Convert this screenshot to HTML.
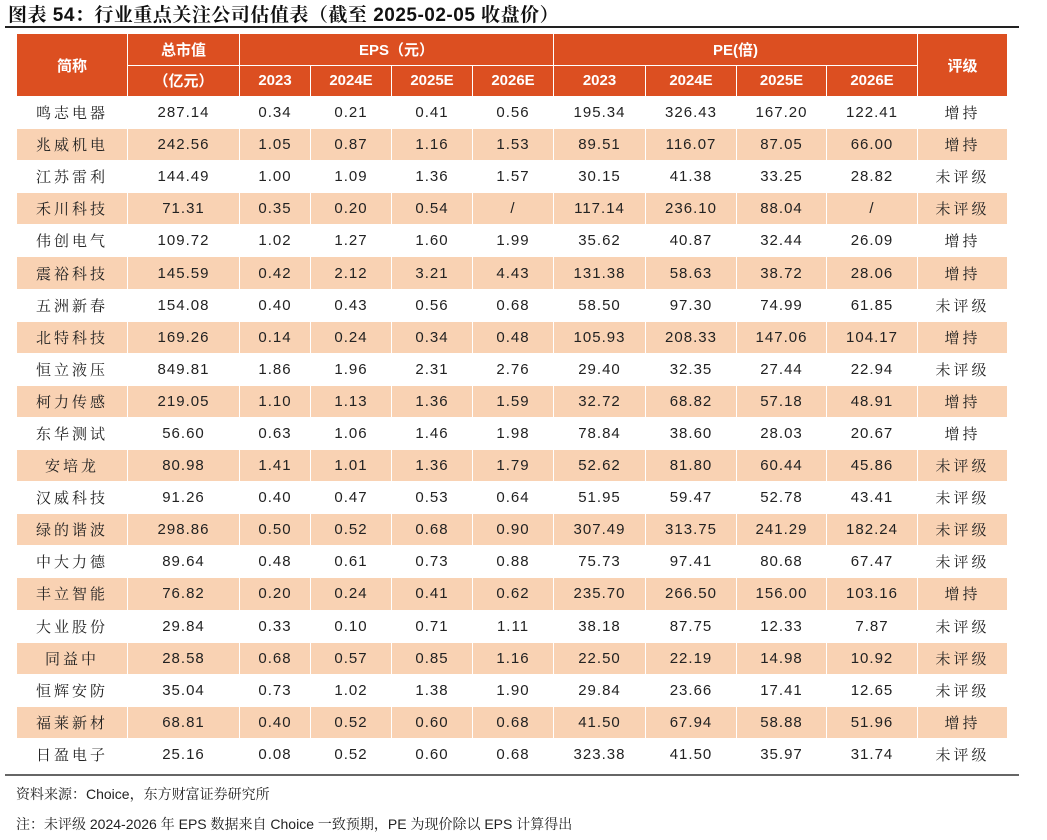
<!DOCTYPE html>
<html><head><meta charset="utf-8">
<style>
body{margin:0;width:1047px;height:840px;background:#fff;position:relative;overflow:hidden;font-family:"Liberation Sans","Noto Sans CJK SC",sans-serif;}
#title{position:absolute;left:8px;top:0px;font-size:19px;font-weight:bold;color:#111;letter-spacing:0.5px;white-space:nowrap;font-family:"Liberation Sans","Noto Serif CJK SC",serif;}
#rule{position:absolute;left:5px;top:26px;width:1014px;height:2px;background:#222;}
table{position:absolute;left:16px;top:33px;border-collapse:collapse;table-layout:fixed;}
td,th{padding:0;text-align:center;border:1px solid #fff;font-size:15px;color:#222;}
th{background:#DC4F21;color:#fff;font-weight:bold;height:30.5px;font-size:15px;}
tbody td{height:31.1px;}
tbody tr:nth-child(even) td{background:#F9D2B3;}
td.n{font-family:"Liberation Sans","Noto Sans CJK SC",sans-serif;letter-spacing:1px;}
td.c{font-family:"Noto Serif CJK SC",serif;letter-spacing:3px;}
#bottom{position:absolute;left:5px;top:774px;width:1014px;height:2px;background:#666;}
.note{position:absolute;left:16px;font-size:14px;color:#222;white-space:nowrap;font-family:"Liberation Sans","Noto Serif CJK SC",sans-serif;}
</style></head><body>
<div id="title">图表 54：行业重点关注公司估值表（截至 2025-02-05 收盘价）</div>
<div id="rule"></div>
<table>
<colgroup><col style="width:111px"><col style="width:112px"><col style="width:71px"><col style="width:81px"><col style="width:81px"><col style="width:81px"><col style="width:92px"><col style="width:91px"><col style="width:90px"><col style="width:91px"><col style="width:90px"></colgroup>
<thead>
<tr><th rowspan="2">简称</th><th>总市值</th><th colspan="4">EPS（元）</th><th colspan="4">PE(倍)</th><th rowspan="2">评级</th></tr>
<tr><th>（亿元）</th><th>2023</th><th>2024E</th><th>2025E</th><th>2026E</th><th>2023</th><th>2024E</th><th>2025E</th><th>2026E</th></tr>
</thead>
<tbody id="tb"></tbody>
</table>
<div id="bottom"></div>
<div class="note" style="top:784px">资料来源：Choice，东方财富证券研究所</div>
<div class="note" style="top:814px">注：未评级 2024-2026 年 EPS 数据来自 Choice 一致预期，PE 为现价除以 EPS 计算得出</div>
<script>
const names=["鸣志电器","兆威机电","江苏雷利","禾川科技","伟创电气","震裕科技","五洲新春","北特科技","恒立液压","柯力传感","东华测试","安培龙","汉威科技","绿的谐波","中大力德","丰立智能","大业股份","同益中","恒辉安防","福莱新材","日盈电子"];
const mcap=["287.14","242.56","144.49","71.31","109.72","145.59","154.08","169.26","849.81","219.05","56.60","80.98","91.26","298.86","89.64","76.82","29.84","28.58","35.04","68.81","25.16"];
const eps=[["0.34","0.21","0.41","0.56"],["1.05","0.87","1.16","1.53"],["1.00","1.09","1.36","1.57"],["0.35","0.20","0.54","/"],["1.02","1.27","1.60","1.99"],["0.42","2.12","3.21","4.43"],["0.40","0.43","0.56","0.68"],["0.14","0.24","0.34","0.48"],["1.86","1.96","2.31","2.76"],["1.10","1.13","1.36","1.59"],["0.63","1.06","1.46","1.98"],["1.41","1.01","1.36","1.79"],["0.40","0.47","0.53","0.64"],["0.50","0.52","0.68","0.90"],["0.48","0.61","0.73","0.88"],["0.20","0.24","0.41","0.62"],["0.33","0.10","0.71","1.11"],["0.68","0.57","0.85","1.16"],["0.73","1.02","1.38","1.90"],["0.40","0.52","0.60","0.68"],["0.08","0.52","0.60","0.68"]];
const pe=[["195.34","326.43","167.20","122.41"],["89.51","116.07","87.05","66.00"],["30.15","41.38","33.25","28.82"],["117.14","236.10","88.04","/"],["35.62","40.87","32.44","26.09"],["131.38","58.63","38.72","28.06"],["58.50","97.30","74.99","61.85"],["105.93","208.33","147.06","104.17"],["29.40","32.35","27.44","22.94"],["32.72","68.82","57.18","48.91"],["78.84","38.60","28.03","20.67"],["52.62","81.80","60.44","45.86"],["51.95","59.47","52.78","43.41"],["307.49","313.75","241.29","182.24"],["75.73","97.41","80.68","67.47"],["235.70","266.50","156.00","103.16"],["38.18","87.75","12.33","7.87"],["22.50","22.19","14.98","10.92"],["29.84","23.66","17.41","12.65"],["41.50","67.94","58.88","51.96"],["323.38","41.50","35.97","31.74"]];
const rating=["增持","增持","未评级","未评级","增持","增持","未评级","增持","未评级","增持","增持","未评级","未评级","未评级","未评级","增持","未评级","未评级","未评级","增持","未评级"];
const tb=document.getElementById('tb');
names.forEach((n,i)=>{
  const tr=document.createElement('tr');
  
  
  const cells=[[n,'c'],[mcap[i],'n'],...eps[i].map(v=>[v,'n']),...pe[i].map(v=>[v,'n']),[rating[i],'c']];
  cells.forEach(([v,cl])=>{
    const td=document.createElement('td');
    td.className=cl;td.textContent=v;
    
    
    tr.appendChild(td);
  });
  tb.appendChild(tr);
});
</script>
</body></html>
